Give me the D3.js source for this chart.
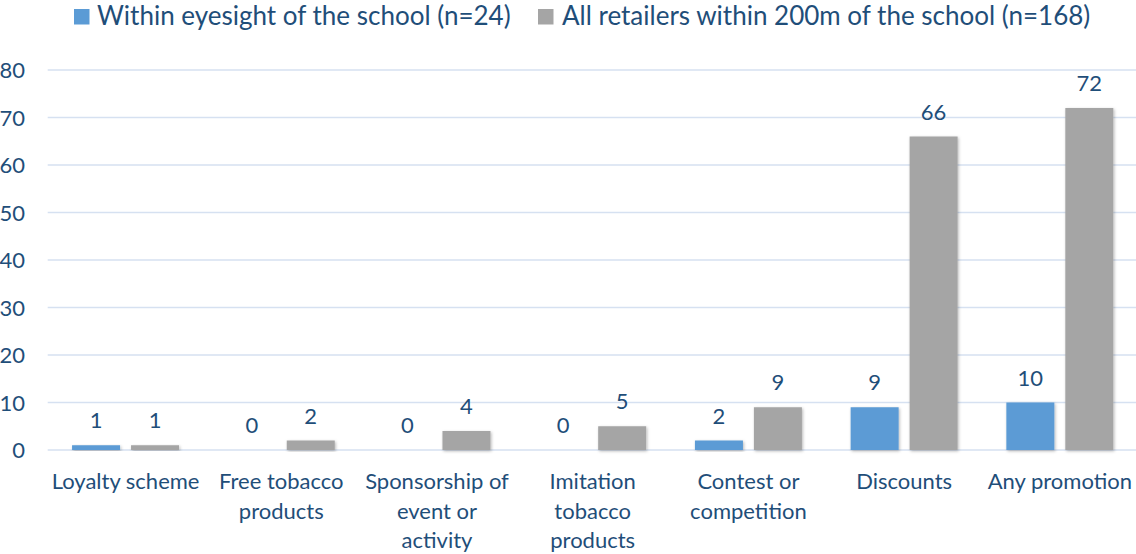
<!DOCTYPE html>
<html>
<head>
<meta charset="utf-8">
<script src="https://cdn.jsdelivr.net/npm/d3@7"></script>
<style>
  html, body { margin: 0; padding: 0; background: #fff; }
  svg { display: block; }
  text { font-family: Lato, "Open Sans", sans-serif; fill: #1F4E79; }
</style>
</head>
<body>
<svg id="chart" width="1136" height="554"></svg>
<script>
// Promotion types observed at tobacco retailers near schools
const categories = [
  "Loyalty scheme",
  "Free tobacco\nproducts",
  "Sponsorship of\nevent or\nactivity",
  "Imitation\ntobacco\nproducts",
  "Contest or\ncompetition",
  "Discounts",
  "Any promotion"
];
const seriesNames = [
  "Within eyesight of the school (n=24)",
  "All retailers within 200m of the school (n=168)"
];
const withinEyesight = [1, 0, 0, 0, 2, 9, 10];
const allRetailers = [1, 2, 4, 5, 9, 66, 72];
const yTicks = [0, 10, 20, 30, 40, 50, 60, 70, 80];
const seriesColors = ["#5B9BD5", "#A5A5A5"];

const svg = d3.select("#chart");
const W = 1136, H = 554;
const plot = { left: 47.7, right: 1137.7, top: 70, bottom: 450 };

const x = d3.scaleBand()
  .domain(categories)
  .range([plot.left, plot.right])
  .paddingInner(0.313)
  .paddingOuter(0.1565);

const xs = d3.scaleBand()
  .domain([0, 1])
  .range([0, x.bandwidth()])
  .paddingInner(0.186);

const y = d3.scaleLinear().domain([0, 80]).range([plot.bottom, plot.top]);

// soft outer shadow on the bars
const defs = svg.append("defs");
const f = defs.append("filter").attr("id", "barShadow")
  .attr("x", "-20%").attr("y", "-20%").attr("width", "140%").attr("height", "140%");
f.append("feDropShadow")
  .attr("dx", 1).attr("dy", 1.2).attr("stdDeviation", 1.4)
  .attr("flood-color", "#000").attr("flood-opacity", 0.28);

// gridlines
const yAxis = d3.axisLeft(y).tickValues(yTicks).tickSize(0).tickPadding(0);
const grid = svg.append("g").attr("class", "grid");
grid.selectAll("line").data(yTicks).join("line")
  .attr("x1", plot.left).attr("x2", W)
  .attr("y1", d => y(d)).attr("y2", d => y(d))
  .attr("stroke", "#D6E1F1").attr("stroke-width", 1.6);

// y axis labels
const ya = svg.append("g").attr("transform", "translate(25,0)").call(yAxis);
ya.select(".domain").remove();
ya.selectAll("text")
  .attr("font-size", 22)
  .attr("font-family", "Lato, sans-serif")
  .attr("fill", "#1F4E79")
  .attr("dy", "0.36em");

// bars
const series = [withinEyesight, allRetailers];
const groups = svg.append("g").selectAll("g").data(categories).join("g")
  .attr("transform", d => `translate(${x(d)},0)`);

groups.each(function(cat, i) {
  const g = d3.select(this);
  series.forEach((vals, s) => {
    const v = vals[i];
    if (v > 0) {
      g.append("rect")
        .attr("x", xs(s)).attr("width", xs.bandwidth())
        .attr("y", y(v)).attr("height", y(0) - y(v))
        .attr("fill", seriesColors[s])
        .attr("filter", "url(#barShadow)");
    }
    g.append("text")
      .attr("x", xs(s) + xs.bandwidth() / 2)
      .attr("y", y(v) - 16.8)
      .attr("text-anchor", "middle")
      .attr("font-size", 22)
      .text(v);
  });
});

// category labels
const xa = svg.append("g");
categories.forEach(cat => {
  const t = xa.append("text")
    .attr("text-anchor", "middle")
    .attr("font-size", 22);
  cat.split("\n").forEach((line, k) => {
    t.append("tspan")
      .attr("x", x(cat) + x.bandwidth() / 2)
      .attr("y", 489 + k * 29.5)
      .text(line);
  });
});

// legend
const legendPos = [{ sq: 74, tx: 97 }, { sq: 538, tx: 562 }];
const lg = svg.append("g");
seriesNames.forEach((name, s) => {
  lg.append("rect")
    .attr("x", legendPos[s].sq).attr("y", 9)
    .attr("width", 15.5).attr("height", 15.5)
    .attr("fill", seriesColors[s]);
  lg.append("text")
    .attr("x", legendPos[s].tx).attr("y", 24.5)
    .attr("font-size", 26)
    .text(name);
});
</script>
</body>
</html>
